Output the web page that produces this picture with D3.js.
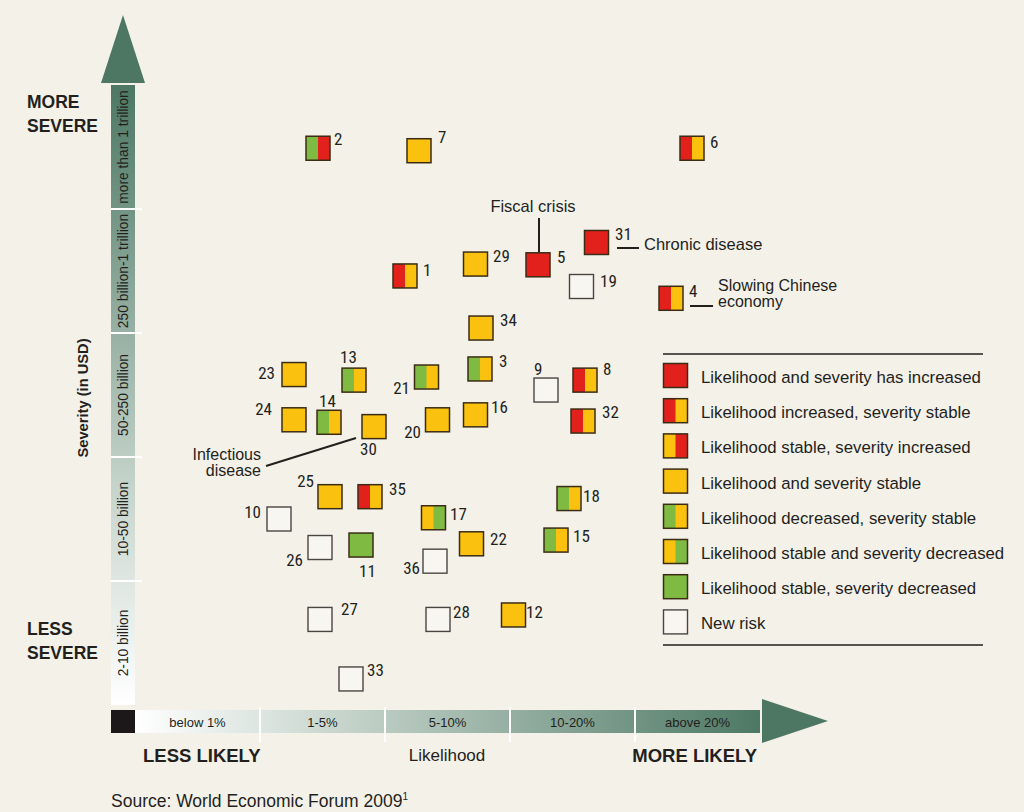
<!DOCTYPE html>
<html><head><meta charset="utf-8">
<script src="https://cdn.jsdelivr.net/npm/d3@7"></script>
<style>
html,body{margin:0;padding:0;background:#f4f1e9;}
svg{display:block;}
text{font-family:"Liberation Sans",Arial,sans-serif;fill:#231f1c;}
.num{font-family:"Liberation Sans Narrow","Roboto Condensed","DejaVu Sans Condensed",sans-serif;font-size:17px;}
</style></head>
<body>
<script>
// ---------- DATA ----------
const riskIds    = [1,2,3,4,5,6,7,8,9,10,11,12,13,14,15,16,17,18,19,20,21,22,23,24,25,26,27,28,29,30,31,32,33,34,35,36];
const likelihood = [2.16,1.464,2.76,4.288,3.224,4.456,2.272,3.6,3.288,1.152,1.808,3.028,1.752,1.552,3.368,2.724,2.388,3.472,3.572,2.42,2.332,2.692,1.272,1.272,1.56,1.48,1.48,2.424,2.724,1.912,3.692,3.584,1.728,2.768,1.88,2.4];
const severity   = [3.46,4.49,2.71,3.28,3.55,4.49,4.47,2.62,2.54,1.50,1.29,0.726,2.62,2.28,1.33,2.34,1.51,1.665,3.375,2.30,2.645,1.30,2.665,2.30,1.68,1.27,0.69,0.69,3.556,2.245,3.73,2.29,0.21,3.04,1.68,1.16];
// change codes: left half = likelihood change, right half = severity change (R increased, Y stable, G decreased, N new)
const changeCode = ["RY","GR","GY","RY","RR","RY","YY","RY","N","N","GG","YY","GY","GY","GY","YY","YG","GY","N","YY","GY","YY","YY","YY","YY","N","N","N","YY","YY","RR","RY","N","YY","RY","N"];

const likelihoodBands = ["below 1%","1-5%","5-10%","10-20%","above 20%"];
const severityBands   = ["2-10 billion","10-50 billion","50-250 billion","250 billion-1 trillion","more than 1 trillion"];

const legendCodes  = ["RR","RY","YR","YY","GY","YG","GG","N"];
const legendLabels = ["Likelihood and severity has increased","Likelihood increased, severity stable","Likelihood stable, severity increased","Likelihood and severity stable","Likelihood decreased, severity stable","Likelihood stable and severity decreased","Likelihood stable, severity decreased","New risk"];

// ---------- LAYOUT ----------
const W = 1024, H = 812;
const colors = {R:"#e2211c", Y:"#fbc10f", G:"#7fbb42"};
const SQ = 24;
// label offsets from square centre: [dx, dy, anchor]
const labelPos = {
 1:[18,0,"start"],2:[16,-3,"start"],3:[19,-2,"start"],4:[18,-1.5,"start"],5:[19,-1.5,"start"],6:[18,0,"start"],
 7:[19,-7.5,"start"],8:[18,-5.5,"start"],9:[-12,-15.5,"start"],10:[-18,-1.5,"end"],11:[-2,31.5,"start"],12:[12.5,3,"start"],
 13:[-14,-17,"start"],14:[-10,-15.5,"start"],15:[17,2,"start"],16:[15.5,-1.5,"start"],17:[16.5,2,"start"],18:[14,3.5,"start"],
 19:[18.5,0.5,"start"],20:[-16.5,18.5,"end"],21:[-16.5,17,"end"],22:[18.5,1,"start"],23:[-19,4.5,"end"],24:[-22,-4.5,"end"],
 25:[-16,-10,"end"],26:[-17,18.5,"end"],27:[21,-4.5,"start"],28:[15,-1.5,"start"],29:[17.5,-2,"start"],30:[-14,28.5,"start"],
 31:[18.5,-2.5,"start"],32:[19,-3.5,"start"],33:[16,-3,"start"],34:[19,-2,"start"],35:[19,-2,"start"],36:[-15,12.5,"end"]
};

const svg = d3.select("body").append("svg").attr("width",W).attr("height",H);
const defs = svg.append("defs");
const x = d3.scaleLinear().domain([0,5]).range([135,760]);
const y = d3.scaleLinear().domain([0,5]).range([705,85]);

// gradients
const gv = defs.append("linearGradient").attr("id","gv").attr("x1",0).attr("y1",1).attr("x2",0).attr("y2",0);
gv.append("stop").attr("offset","0%").attr("stop-color","#ffffff");
gv.append("stop").attr("offset","35%").attr("stop-color","#c6d4cb");
gv.append("stop").attr("offset","100%").attr("stop-color","#4d7864");
const gh = defs.append("linearGradient").attr("id","gh").attr("x1",0).attr("y1",0).attr("x2",1).attr("y2",0);
gh.append("stop").attr("offset","0%").attr("stop-color","#ffffff");
gh.append("stop").attr("offset","35%").attr("stop-color","#c3d2c9");
gh.append("stop").attr("offset","100%").attr("stop-color","#4d7864");

// vertical bar
svg.append("rect").attr("x",111).attr("y",y(5)).attr("width",24).attr("height",y(0)-y(5)).attr("fill","url(#gv)");
svg.append("path").attr("d",`M101,${y(5)-2}L145,${y(5)-2}L123,15Z`).attr("fill","#4d7763");
d3.range(1,5).forEach(i=>{
  svg.append("line").attr("x1",111).attr("x2",142).attr("y1",y(i)).attr("y2",y(i)).attr("stroke","#fff").attr("stroke-width",2);
});
severityBands.forEach((t,i)=>{
  const cy=(y(i)+y(i+1))/2;
  svg.append("text").attr("transform",`translate(128,${cy}) rotate(-90)`).attr("text-anchor","middle")
    .attr("font-size",13.8).text(t);
});
// black corner
svg.append("rect").attr("x",111).attr("y",710).attr("width",24).attr("height",23).attr("fill","#1c1719");
// horizontal bar
svg.append("rect").attr("x",x(0)).attr("y",710).attr("width",x(5)-x(0)).attr("height",23).attr("fill","url(#gh)");
svg.append("path").attr("d",`M762,699L762,743L828,721Z`).attr("fill","#4d7763");
d3.range(1,5).forEach(i=>{
  svg.append("line").attr("x1",x(i)).attr("x2",x(i)).attr("y1",707).attr("y2",742).attr("stroke","#fff").attr("stroke-width",2);
});
likelihoodBands.forEach((t,i)=>{
  svg.append("text").attr("x",(x(i)+x(i+1))/2).attr("y",727).attr("text-anchor","middle").attr("font-size",13).text(t);
});

// axis texts
const bold = (t,xx,yy,fs,anchor)=>svg.append("text").attr("x",xx).attr("y",yy).attr("font-size",fs).attr("font-weight","bold").attr("text-anchor",anchor||"start").text(t);
bold("MORE",27,108,17.5); bold("SEVERE",27,132,17.5);
bold("LESS",27,635,17.5); bold("SEVERE",27,659,17.5);
bold("LESS LIKELY",143,762,18.5); bold("MORE LIKELY",757,762,18.5,"end");
svg.append("text").attr("x",447).attr("y",761).attr("text-anchor","middle").attr("font-size",17).text("Likelihood");
svg.append("text").attr("transform","translate(88,398) rotate(-90)").attr("text-anchor","middle")
  .attr("font-size",14.7).attr("font-weight","bold").text("Severity (in USD)");
const src = svg.append("text").attr("x",111).attr("y",807).attr("font-size",17.5);
src.append("tspan").text("Source: World Economic Forum 2009");
src.append("tspan").attr("font-size",10).attr("dy",-7).text("1");

// annotations
const ann = svg.append("g").attr("font-size",16.5);
ann.append("text").attr("x",533).attr("y",212).attr("text-anchor","middle").text("Fiscal crisis");
ann.append("line").attr("x1",539).attr("x2",539).attr("y1",218).attr("y2",252);
ann.append("line").attr("x1",617).attr("x2",639).attr("y1",248).attr("y2",248);
ann.append("text").attr("x",644).attr("y",250).text("Chronic disease");
ann.append("line").attr("x1",690).attr("x2",713).attr("y1",306).attr("y2",306);
ann.append("text").attr("x",718).attr("y",291).attr("font-size",16).text("Slowing Chinese");
ann.append("text").attr("x",718).attr("y",307).attr("font-size",16).text("economy");
ann.append("line").attr("x1",266).attr("x2",356).attr("y1",466).attr("y2",438);
ann.append("text").attr("x",261).attr("y",460).attr("text-anchor","end").attr("font-size",16).text("Infectious");
ann.append("text").attr("x",261).attr("y",476).attr("text-anchor","end").attr("font-size",16).text("disease");
ann.selectAll("line").attr("stroke","#231f1c").attr("stroke-width",2);

// square drawing helper
function drawSquare(g, cx, cy, code){
  const x0 = cx-SQ/2, y0 = cy-SQ/2;
  if(code==="N"){
    g.append("rect").attr("x",x0).attr("y",y0).attr("width",SQ).attr("height",SQ)
      .attr("fill","#f8f6f1").attr("stroke","#4a4541").attr("stroke-width",1.4);
    return;
  }
  g.append("rect").attr("x",x0).attr("y",y0).attr("width",SQ).attr("height",SQ).attr("fill",colors[code[1]]);
  if(code[0]!==code[1])
    g.append("rect").attr("x",x0).attr("y",y0).attr("width",SQ/2).attr("height",SQ).attr("fill",colors[code[0]]);
  g.append("rect").attr("x",x0).attr("y",y0).attr("width",SQ).attr("height",SQ)
    .attr("fill","none").attr("stroke","#3b2c16").attr("stroke-width",1.5);
}

// risks
const risks = riskIds.map((id,i)=>({id, l:likelihood[i], s:severity[i], c:changeCode[i]}));
const gR = svg.append("g");
risks.forEach(d=>{
  const cx=x(d.l), cy=y(d.s);
  const g=gR.append("g");
  drawSquare(g,cx,cy,d.c);
  const p=labelPos[d.id];
  g.append("text").attr("class","num").attr("x",cx+p[0]).attr("y",cy+p[1]).attr("text-anchor",p[2]).text(d.id);
});

// legend
const lg = svg.append("g");
lg.append("line").attr("x1",663).attr("x2",983).attr("y1",354).attr("y2",354).attr("stroke","#231f1c").attr("stroke-width",1.3);
lg.append("line").attr("x1",663).attr("x2",983).attr("y1",645).attr("y2",645).attr("stroke","#231f1c").attr("stroke-width",1.3);
legendCodes.forEach((c,i)=>{
  const top = 363 + i*35.2;
  drawSquare(lg, 663+12.5, top+12.5, c);
  lg.append("text").attr("x",701).attr("y",top+20).attr("font-size",16.8).text(legendLabels[i]);
});
</script>
</body></html>
